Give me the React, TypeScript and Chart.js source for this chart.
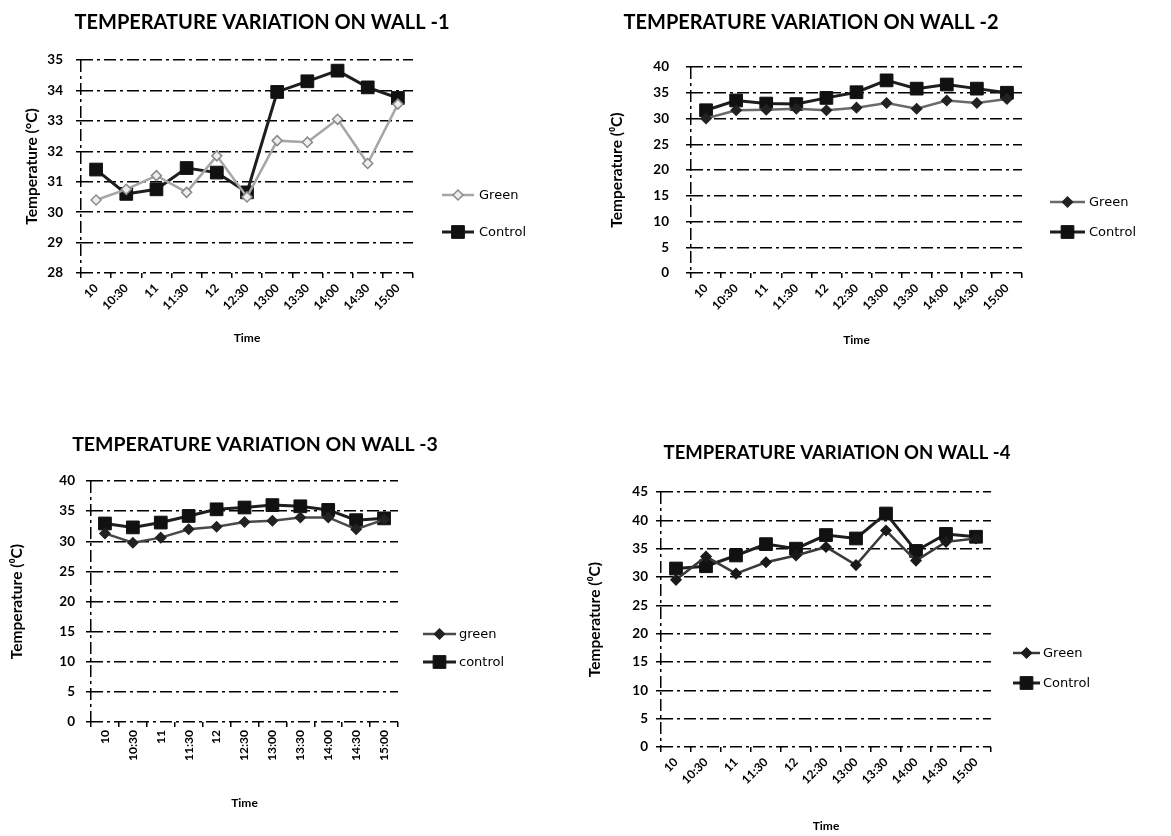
import React, { useEffect, useRef } from 'react';
import { Chart, registerables } from 'chart.js';
import { drawPoint } from 'chart.js/helpers';

Chart.register(...registerables);

// ---------- data ----------
const times = ['10', '10:30', '11', '11:30', '12', '12:30', '13:00', '13:30', '14:00', '14:30', '15:00'];

const wall1Green = [30.4, 30.75, 31.2, 30.65, 31.85, 30.5, 32.35, 32.3, 33.05, 31.6, 33.55];
const wall1Control = [31.4, 30.6, 30.75, 31.45, 31.3, 30.65, 33.95, 34.3, 34.65, 34.1, 33.75];
const wall1YTicks = [28, 29, 30, 31, 32, 33, 34, 35];

const wall2Green = [30.0, 31.6, 31.7, 31.9, 31.6, 32.1, 33.0, 31.9, 33.5, 33.0, 33.8];
const wall2Control = [31.6, 33.5, 32.9, 32.8, 34.0, 35.1, 37.4, 35.8, 36.6, 35.8, 35.0];
const wall2YTicks = [0, 5, 10, 15, 20, 25, 30, 35, 40];

const wall3Green = [31.3, 29.75, 30.6, 32.0, 32.4, 33.2, 33.4, 33.95, 33.95, 32.0, 33.6];
const wall3Control = [32.95, 32.3, 33.1, 34.2, 35.3, 35.6, 36.0, 35.8, 35.2, 33.5, 33.8];
const wall3YTicks = [0, 5, 10, 15, 20, 25, 30, 35, 40];

const wall4Green = [29.5, 33.6, 30.6, 32.6, 33.8, 35.3, 32.1, 38.2, 32.9, 36.2, 36.8];
const wall4Control = [31.5, 31.9, 33.8, 35.8, 35.0, 37.4, 36.8, 41.2, 34.6, 37.6, 37.1];
const wall4YTicks = [0, 5, 10, 15, 20, 25, 30, 35, 40, 45];

const titles = [
  'TEMPERATURE VARIATION ON WALL -1',
  'TEMPERATURE VARIATION ON WALL -2',
  'TEMPERATURE VARIATION ON WALL -3',
  'TEMPERATURE VARIATION ON WALL -4',
];
const legendNames = [
  ['Green', 'Control'],
  ['Green', 'Control'],
  ['green', 'control'],
  ['Green', 'Control'],
];
const yTitles = ['Temperature (°C)', 'Temperature (⁰C)', 'Temperature (⁰C)', 'Temperature (⁰C)'];
const xTitle = 'Time';

// ---------- layout / style ----------
const W = 1171;
const H = 836;
const FONT = 'Lato, "Open Sans", sans-serif';
const DASH = [12, 4, 3, 4];

type Panel = {
  title: string;
  green: number[];
  control: number[];
  names: string[];
  yTicks: number[];
  yTitle: string;
  rotation: number;
  plotL: number; plotT: number; plotR: number; plotB: number;
  yTitleX: number; yLabelGap: number; xTitleY: number;
  titleX: number; titleY: number; titleSize: number;
  legX0: number; legX1: number; legTX: number; legY: number[];
  greenLine: string; greenFill: string; greenBorder: string;
};

const panels: Panel[] = [
  {
    title: titles[0], green: wall1Green, control: wall1Control, names: legendNames[0], yTicks: wall1YTicks, yTitle: yTitles[0], rotation: 45,
    plotL: 81, plotT: 60, plotR: 413, plotB: 273, yTitleX: 32, yLabelGap: 18, xTitleY: 338,
    titleX: 262, titleY: 23, titleSize: 20,
    legX0: 442, legX1: 474, legTX: 479, legY: [195, 232],
    greenLine: '#a6a6a6', greenFill: '#eeeeee', greenBorder: '#8a8a8a',
  },
  {
    title: titles[1], green: wall2Green, control: wall2Control, names: legendNames[1], yTicks: wall2YTicks, yTitle: yTitles[1], rotation: 45,
    plotL: 691, plotT: 67, plotR: 1022, plotB: 273, yTitleX: 617, yLabelGap: 22, xTitleY: 340,
    titleX: 811, titleY: 23, titleSize: 20,
    legX0: 1050, legX1: 1085, legTX: 1089, legY: [202, 232],
    greenLine: '#6a6a6a', greenFill: '#222222', greenBorder: '#222222',
  },
  {
    title: titles[2], green: wall3Green, control: wall3Control, names: legendNames[2], yTicks: wall3YTicks, yTitle: yTitles[2], rotation: 90,
    plotL: 91, plotT: 481, plotR: 398, plotB: 722, yTitleX: 17, yLabelGap: 16, xTitleY: 803,
    titleX: 255, titleY: 445, titleSize: 19.5,
    legX0: 423, legX1: 456, legTX: 459, legY: [634, 662],
    greenLine: '#4a4a4a', greenFill: '#222222', greenBorder: '#222222',
  },
  {
    title: titles[3], green: wall4Green, control: wall4Control, names: legendNames[3], yTicks: wall4YTicks, yTitle: yTitles[3], rotation: 45,
    plotL: 661, plotT: 492, plotR: 991, plotB: 747, yTitleX: 595, yLabelGap: 13, xTitleY: 826,
    titleX: 837, titleY: 453, titleSize: 18.5,
    legX0: 1013, legX1: 1040, legTX: 1043, legY: [653, 683],
    greenLine: '#3a3a3a', greenFill: '#1a1a1a', greenBorder: '#1a1a1a',
  },
];

const TICK_LEN = 5;
const Y_TITLE_SIZE = 15.5;
const X_TITLE_SIZE = 12;

function decorPlugin(p: Panel) {
  return {
    id: 'decor',
    afterDraw(chart: any) {
      const ctx: CanvasRenderingContext2D = chart.ctx;
      ctx.save();
      ctx.fillStyle = '#000';
      ctx.textAlign = 'center';
      ctx.textBaseline = 'middle';
      ctx.font = `bold ${p.titleSize}px ${FONT}`;
      ctx.fillText(p.title, p.titleX, p.titleY);

      chart.data.datasets.forEach((ds: any, i: number) => {
        const y = p.legY[i];
        ctx.setLineDash([]);
        ctx.strokeStyle = ds.borderColor;
        ctx.lineWidth = ds.borderWidth;
        ctx.beginPath();
        ctx.moveTo(p.legX0, y);
        ctx.lineTo(p.legX1, y);
        ctx.stroke();
        ctx.fillStyle = ds.pointBackgroundColor;
        ctx.strokeStyle = ds.pointBorderColor;
        ctx.lineWidth = ds.pointBorderWidth;
        drawPoint(ctx, { pointStyle: ds.pointStyle, radius: ds.pointRadius, borderWidth: ds.pointBorderWidth, rotation: 0 } as any,
          (p.legX0 + p.legX1) / 2, y);
        ctx.fillStyle = '#000';
        ctx.textAlign = 'left';
        ctx.font = `13px "DejaVu Sans", sans-serif`;
        ctx.fillText(ds.label, p.legTX, y + 1);
      });
      ctx.restore();
    },
  };
}

function ChartPanel({ p }: { p: Panel }) {
  const ref = useRef<HTMLCanvasElement>(null);
  useEffect(() => {
    if (!ref.current) return;
    const yLh = Y_TITLE_SIZE * 1.2;
    const xLh = X_TITLE_SIZE * 1.2;
    const padLeft = p.yTitleX - yLh / 2;
    const yWidth = p.plotL - padLeft;
    const xHeight = p.xTitleY + xLh / 2 - p.plotB;
    const padBottom = H - p.plotB - xHeight;
    const yMin = p.yTicks[0];
    const yMax = p.yTicks[p.yTicks.length - 1];
    const yStep = p.yTicks[1] - p.yTicks[0];

    const chart = new Chart(ref.current, {
      type: 'line',
      data: {
        labels: times,
        datasets: [
          {
            label: p.names[0],
            data: p.green,
            borderColor: p.greenLine,
            borderWidth: 2.5,
            pointStyle: 'rectRot',
            pointRadius: 5,
            pointBackgroundColor: p.greenFill,
            pointBorderColor: p.greenBorder,
            pointBorderWidth: 1.5,
            tension: 0,
          },
          {
            label: p.names[1],
            data: p.control,
            borderColor: '#1e1e1e',
            borderWidth: 3,
            pointStyle: 'rect',
            pointRadius: 9,
            pointBackgroundColor: '#111111',
            pointBorderColor: '#111111',
            pointBorderWidth: 1,
            tension: 0,
          },
        ],
      },
      options: {
        responsive: false,
        animation: false,
        events: [],
        layout: {
          padding: { left: padLeft, top: p.plotT, right: W - p.plotR, bottom: padBottom },
        },
        plugins: {
          legend: { display: false },
          title: { display: false },
          tooltip: { enabled: false },
        },
        scales: {
          x: {
            type: 'category',
            offset: true,
            grid: {
              display: true,
              offset: true,
              drawOnChartArea: true,
              drawTicks: true,
              tickLength: TICK_LEN,
              tickColor: '#000',
              lineWidth: 1.5,
              color: (c: any) => (c.index === 0 ? '#000' : 'rgba(0,0,0,0)'),
            },
            border: { display: false, dash: DASH },
            ticks: {
              autoSkip: false,
              minRotation: p.rotation,
              maxRotation: p.rotation,
              padding: 3,
              color: '#000',
              font: { family: FONT, size: 12, weight: 'bold' },
            },
            title: {
              display: true,
              text: xTitle,
              color: '#000',
              padding: 0,
              font: { family: FONT, size: X_TITLE_SIZE, weight: 'bold', lineHeight: 1.2 },
            },
            afterFit: (s: any) => {
              s.height = xHeight;
            },
          },
          y: {
            min: yMin,
            max: yMax,
            grid: {
              color: '#000',
              lineWidth: 1.5,
              tickLength: TICK_LEN,
              tickColor: '#000',
            },
            border: { display: false, dash: DASH },
            ticks: {
              stepSize: yStep,
              padding: p.yLabelGap - TICK_LEN,
              color: '#000',
              font: { family: FONT, size: 13.5, weight: 'bold' },
            },
            title: {
              display: true,
              text: p.yTitle,
              color: '#000',
              padding: 0,
              font: { family: FONT, size: Y_TITLE_SIZE, weight: 'bold', lineHeight: 1.2 },
            },
            afterFit: (s: any) => {
              s.width = yWidth;
            },
          },
        },
      } as any,
      plugins: [decorPlugin(p)],
    });
    return () => chart.destroy();
  }, [p]);

  return (
    <canvas
      ref={ref}
      width={W}
      height={H}
      style={{ position: 'absolute', left: 0, top: 0, width: W, height: H }}
    />
  );
}

export default function App() {
  return (
    <div style={{ position: 'absolute', left: 0, top: 0, width: W, height: H, background: '#fff' }}>
      {panels.map((p, i) => (
        <ChartPanel key={i} p={p} />
      ))}
    </div>
  );
}
